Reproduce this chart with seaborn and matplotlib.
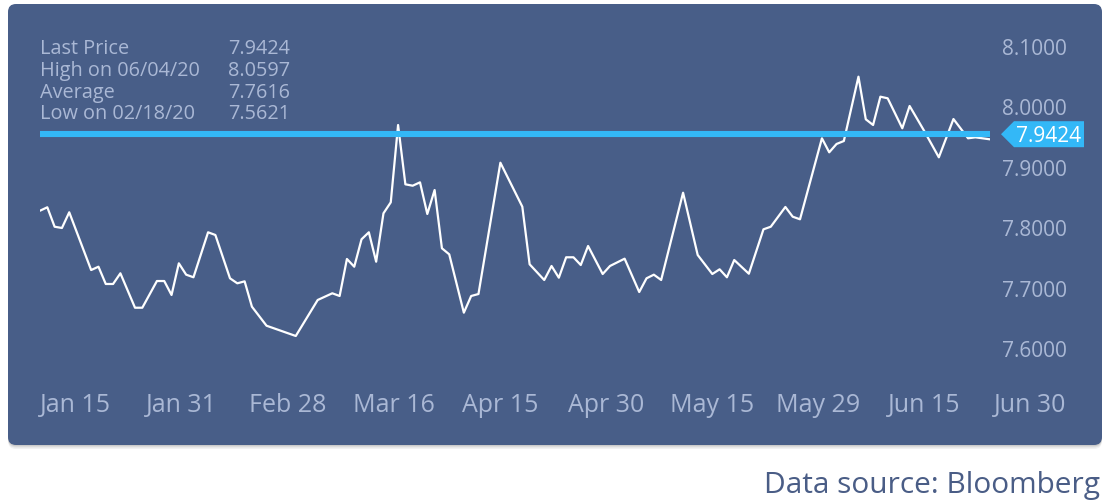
import numpy as np
import pandas as pd
import matplotlib
matplotlib.use("Agg")
import matplotlib.pyplot as plt
from matplotlib.patches import FancyBboxPatch, Polygon
import seaborn as sns

# Datos (índice de sesión, precio)
day_idx = [0, 1, 2, 3, 4, 7, 8, 9, 10, 11, 13, 14, 16, 17, 18, 19, 20, 21, 23, 24,
           26, 27, 28, 29, 31, 35, 38, 40, 41, 42, 43, 44, 45, 46, 47, 48, 49, 50, 51, 52,
           53, 54, 55, 56, 58, 59, 60, 63, 66, 67, 69, 70, 71, 72, 73, 74, 75, 77, 78, 80,
           82, 83, 84, 85, 88, 90, 92, 93, 94, 95, 97, 99, 100, 102, 103, 104, 107, 108, 109, 110,
           112, 113, 114, 115, 116, 118, 119, 121, 123, 125, 127, 128, 130]
price = [7.8157, 7.8214, 7.7892, 7.7871, 7.8131, 7.7175, 7.7230, 7.6944, 7.6944, 7.7121,
         7.6551, 7.6551, 7.6993, 7.6993, 7.6762, 7.7286, 7.7098, 7.7055, 7.7800, 7.7755,
         7.7038, 7.6955, 7.6988, 7.6568, 7.6253, 7.6083, 7.6679, 7.6790, 7.6745, 7.7358,
         7.7230, 7.7684, 7.7800, 7.7313, 7.8114, 7.8296, 7.9576, 7.8594, 7.8571, 7.8627,
         7.8103, 7.8500, 7.7535, 7.7435, 7.6469, 7.6745, 7.6778, 7.8952, 7.8224, 7.7270,
         7.7010, 7.7242, 7.7048, 7.7386, 7.7386, 7.7258, 7.7573, 7.7109, 7.7242, 7.7363,
         7.6811, 7.7038, 7.7098, 7.7010, 7.8455, 7.7424, 7.7109, 7.7187, 7.7055, 7.7341,
         7.7114, 7.7849, 7.7892, 7.8219, 7.8058, 7.8015, 7.9356, 7.9124, 7.9262, 7.9311,
         8.0376, 7.9671, 7.9576, 8.0045, 8.0018, 7.9522, 7.9891, 7.9477, 7.9041, 7.9675,
         7.9356, 7.9372, 7.9339]

date_labels = ["Jan 15", "Jan 31", "Feb 28", "Mar 16", "Apr 15",
               "Apr 30", "May 15", "May 29", "Jun 15", "Jun 30"]
y_ticks = [7.6, 7.7, 7.8, 7.9, 8.0, 8.1]

stat_names = ["Last Price", "High on 06/04/20", "Average", "Low on 02/18/20"]
stat_values = ["7.9424", "8.0597", "7.7616", "7.5621"]
last_price = 7.9424

PANEL = "#485e88"
LABEL = "#aab8d5"
BLUE = "#33b8f7"

sns.set_style("white")
plt.rcParams["font.family"] = ["Open Sans", "DejaVu Sans"]

W, H = 1110, 500
fig = plt.figure(figsize=(W / 100, H / 100), dpi=100, facecolor="white")


def fx(px):
    return px / W


def fy(py):
    return 1 - py / H


# panel de fondo con sombra suave
for off, a in [(4, 0.05), (2.5, 0.07), (1.2, 0.09)]:
    sh = FancyBboxPatch((fx(8), fy(445 + off)), fx(1094), (441) / H,
                        boxstyle=f"round,pad=0,rounding_size={8 / W}",
                        mutation_aspect=W / H, transform=fig.transFigure,
                        facecolor="black", edgecolor="none", alpha=a, zorder=0)
    fig.add_artist(sh)
panel = FancyBboxPatch((fx(8), fy(445)), fx(1094), 441 / H,
                       boxstyle=f"round,pad=0,rounding_size={8 / W}",
                       mutation_aspect=W / H, transform=fig.transFigure,
                       facecolor=PANEL, edgecolor="none", zorder=0.5)
fig.add_artist(panel)

# ejes principales
y_lo, y_hi = 7.58, 8.12
px_per_unit = 604
top_px = 39 - (y_hi - 8.1) * px_per_unit
bot_px = 341 + (7.6 - y_lo) * px_per_unit
ax = fig.add_axes([fx(40), fy(bot_px), fx(950), (bot_px - top_px) / H])
ax.set_facecolor("none")
ax.set_zorder(2)

df = pd.DataFrame({"day": day_idx, "price": price})
sns.lineplot(data=df, x="day", y="price", ax=ax, color="white", linewidth=1.6)
ax.axhline(last_price, color=BLUE, linewidth=4.4, solid_capstyle="butt", zorder=3)

ax.set_xlim(0, 130)
ax.set_ylim(y_lo, y_hi)
ax.set_xlabel("")
ax.set_ylabel("")
ax.set_xticks([])
ax.yaxis.tick_right()
ax.set_yticks(y_ticks)
ax.set_yticklabels([f"{v:.4f}" for v in y_ticks])
ax.tick_params(axis="y", length=0, pad=8.6, labelsize=15, labelcolor=LABEL)
for s in ax.spines.values():
    s.set_visible(False)

# etiquetas de fechas repartidas de forma uniforme
ax_dates = fig.add_axes([fx(75.7), fy(393), fx(1030 - 75.7), 0.0001])
ax_dates.set_facecolor("none")
ax_dates.set_zorder(2)
ax_dates.set_xlim(0, len(date_labels) - 1)
ax_dates.set_xticks(range(len(date_labels)))
ax_dates.set_xticklabels(date_labels)
ax_dates.set_yticks([])
ax_dates.tick_params(axis="x", length=0, pad=0, labelsize=18, labelcolor=LABEL)
for s in ax_dates.spines.values():
    s.set_visible(False)

# etiqueta del último precio
yc = 39 + (8.1 - last_price) * px_per_unit
badge = Polygon([(fx(1001), fy(yc)), (fx(1014), fy(yc - 13)), (fx(1084), fy(yc - 13)),
                 (fx(1084), fy(yc + 13)), (fx(1014), fy(yc + 13))],
                closed=True, transform=fig.transFigure, facecolor=BLUE,
                edgecolor="none", zorder=4)
fig.add_artist(badge)
fig.text(fx(1049), fy(yc), f"{last_price:.4f}", color="white", fontsize=15,
         ha="center", va="center_baseline", zorder=5)

# bloque de estadísticas
baselines = [54, 76, 97.5, 119]
for name, val, b in zip(stat_names, stat_values, baselines):
    fig.text(fx(40), fy(b), name, color=LABEL, fontsize=14.3, va="baseline", zorder=5)
    fig.text(fx(228), fy(b), val, color=LABEL, fontsize=14.3, va="baseline", zorder=5)

fig.text(fx(1100), fy(493), "Data source: Bloomberg", color="#4a5d86",
         fontsize=21.5, ha="right", va="baseline")

for lbl in ax.get_yticklabels():
    lbl.set_verticalalignment("top")

fig.savefig("out.png", dpi=100, facecolor="white")
